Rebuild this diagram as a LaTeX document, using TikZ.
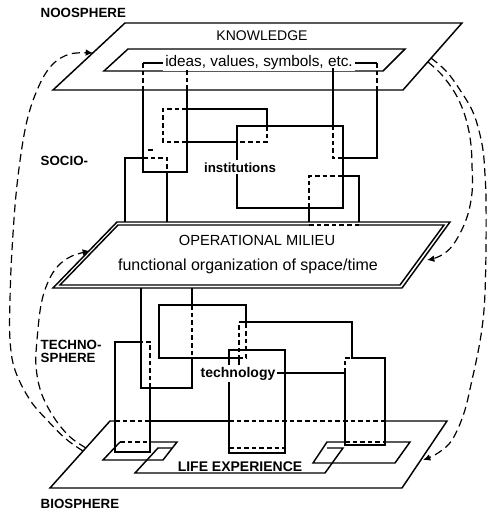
\documentclass[tikz,border=0pt]{standalone}
\usepackage{fontspec}
\setmainfont{Liberation Sans}
\usetikzlibrary{arrows.meta}

\begin{document}
\begin{tikzpicture}[
    x=0.75pt, y=-0.75pt,
    line width=1.1pt,
    hid/.style={dash pattern=on 3.5pt off 2.2pt},
    flow/.style={dash pattern=on 6pt off 3.5pt, line width=0.9pt},
    arr/.style={-{Latex[length=5.5pt, width=5pt]}},
    side/.style={font=\fontsize{10}{12}\selectfont\bfseries, inner sep=0pt, anchor=base west},
    lbl/.style={inner sep=0pt, anchor=base},
    cut/.style={lbl, fill=white, inner sep=1.5pt},
]
\useasboundingbox (0,0) rectangle (488,518);

% Planes
\draw[fill=white] (125,23) -- (462,23) -- (403,90) -- (53,90) -- cycle;
\draw (128,49) -- (405,49) -- (383,71) -- (104,71) -- cycle;

\draw[fill=white] (117,222) -- (450,222) -- (402,288) -- (53,288) -- cycle;
\draw (309,225) -- (118,225) -- (60,285) -- (400,285) -- (444,225) -- (359,225);
\draw[hid] (309,225) -- (359,225);

\draw (385,421) -- (447,421) -- (402,488) -- (50,488) -- (110,421) -- (115,421);
\draw (150,421) -- (229,421);
\foreach \a/\b in {115/150, 229/385}
    \draw[hid] (\a,421) -- (\b,421);

% Side labels
\node[side] (noo) at (40,17) {NOOSPHERE};
\node[side] (socio) at (40,165) {SOCIO-};
\node[side] (techno) at (40,349) {TECHNO-};
\node[side] (sphere) at (40,362) {SPHERE};
\node[side] (bio) at (40,508) {BIOSPHERE};

% Plane labels
\node[lbl, font=\fontsize{10.5}{12}\selectfont] (know) at (262,40) {KNOWLEDGE};
\node[cut, font=\fontsize{11.5}{13}\selectfont] (ideas) at (259,66) {ideas, values, symbols, etc.};
\node[lbl, font=\fontsize{11}{13}\selectfont] (opm) at (257,245) {OPERATIONAL MILIEU};
\node[lbl, font=\fontsize{12}{14}\selectfont] (func) at (248,270) {functional organization of space/time};

% Socio links
\coordinate (gTL) at (143,63);
\coordinate (kTR) at (377,63);
\draw (ideas.west |- gTL) -- (gTL);
\draw[hid] (gTL) -- (143,90);
\draw (143,90) -- (143,172) -- (187,172) -- (187,90);
\draw[hid] (187,90) -- (187,68);

\draw (ideas.east |- kTR) -- (kTR);
\draw[hid] (kTR) -- (377,90);
\draw (377,90) -- (377,158) -- (343,158);
\draw[hid] (343,158) -- (333,158) -- (333,126);
\draw (333,126) -- (333,68);

\draw[hid] (187,109) -- (163,109) -- (163,142) -- (187,142);
\draw (187,109) -- (267,109) -- (267,126);
\draw[hid] (267,126) -- (267,142) -- (237,142);
\draw (237,142) -- (187,142);

\draw (237,126) rectangle (343,208);

\draw (125,222) -- (125,158) -- (143,158);
\draw[hid] (143,158) -- (167,158) -- (167,172);
\draw (167,172) -- (167,222);
\draw[line width=1.6pt] (148,150) -- (153,150);

\draw (309,222) -- (309,208);
\draw[hid] (309,208) -- (309,176) -- (343,176);
\draw (343,176) -- (359,176) -- (359,222);

\node[cut, font=\fontsize{10}{12}\selectfont\bfseries] (inst) at (240,172) {institutions};

% Techno links
\draw (192,288) -- (192,305);
\draw[hid] (192,305) -- (192,358);
\draw (192,358) -- (192,388) -- (141,388) -- (141,288);

\draw (246,322) -- (246,305) -- (159,305) -- (159,358) -- (238,358);
\draw[hid] (238,358) -- (246,358) -- (246,322);

\draw (229,453) -- (229,350) -- (285,350) -- (285,453) -- cycle;

\draw (239,373) -- (239,360);
\draw[hid] (239,360) -- (239,322);
\draw (239,322) -- (352,322) -- (352,358) -- (385,358) -- (385,445) -- (345,445) -- (345,373) -- (239,373);
\draw[hid] (345,373) -- (345,358) -- (352,358);

\draw (141,342) -- (115,342) -- (115,452) -- (150,452) -- (150,388);
\draw[hid] (150,388) -- (150,342) -- (141,342);

\node[cut, font=\fontsize{10.5}{12}\selectfont\bfseries] (tech) at (238,377) {technology};

% Life experience
\draw (150,442) -- (177,442) -- (163,460) -- (103,460) -- (120,442);
\draw[hid] (120,442) -- (150,442);
\draw (172,448) -- (158,448) -- (135,473) -- (325,473) -- (343,448) -- (327,448);
\draw[hid] (229,448) -- (285,448);
\draw (345,442) -- (327,442) -- (313,463) -- (395,463) -- (410,442) -- (385,442);
\draw[hid] (345,442) -- (385,442);
\node[lbl, font=\fontsize{10.5}{12}\selectfont\bfseries] (life) at (240,471) {LIFE EXPERIENCE};

% Feedback arcs
\coordinate (nooL) at (93,53);
\coordinate (opmL) at (90,251);
\coordinate (opmR) at (427,260);
\coordinate (bioR) at (423,460);
\draw[flow, arr] plot[smooth, tension=0.6] coordinates {(83,451) (66,439) (48,421) (30,400) (15,370) (10,340) (10,300) (12,250) (17,185) (26,125) (38,88) (52,65) (70,54) (nooL)};
\draw[flow, arr] plot[smooth, tension=0.6] coordinates {(86,448) (69,436) (53,416) (41,392) (36,366) (37,340) (41,305) (48,282) (58,266) (72,256) (opmL)};
\draw[flow, arr] plot[smooth, tension=0.6] coordinates {(431,58) (447,72) (462,93) (472,110) (478,127) (483,150) (485,175) (486,200) (486,250) (485,293) (483,320) (479,347) (472,380) (464,413) (452,440) (438,453) (bioR)};
\draw[flow, arr] plot[smooth, tension=0.6] coordinates {(428,62) (442,75) (455,93) (463,110) (468,127) (471,145) (472,165) (472,193) (466,220) (453,245) (440,256) (opmR)};

\end{tikzpicture}
\end{document}
